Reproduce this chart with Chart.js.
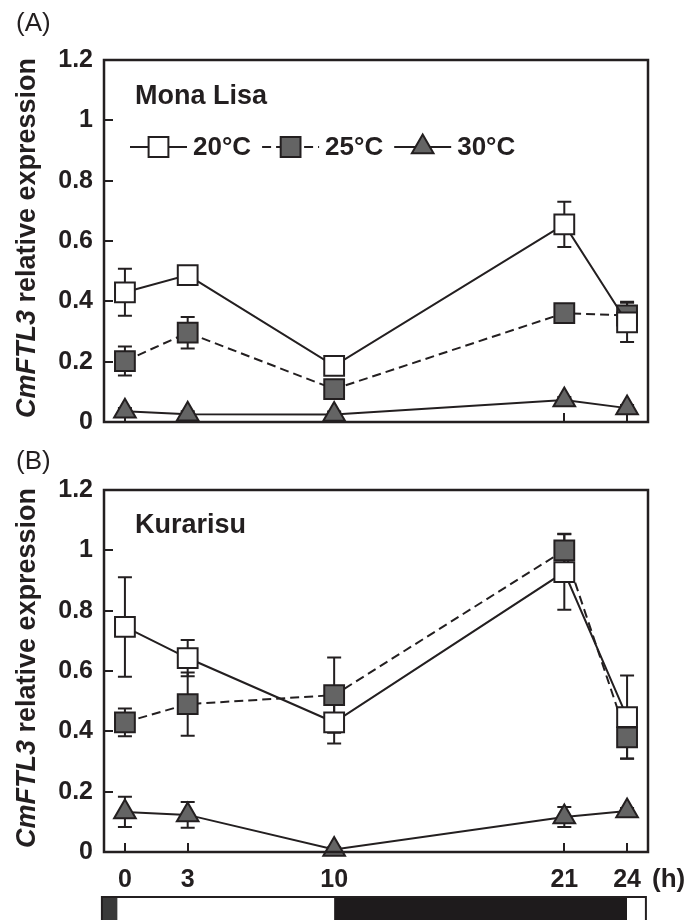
<!DOCTYPE html>
<html>
<head>
<meta charset="utf-8">
<script src="https://cdn.jsdelivr.net/npm/chart.js@4.4.1/dist/chart.umd.min.js"></script>
<style>
  html, body { margin: 0; padding: 0; background: #fff; }
  #wrap { position: relative; width: 700px; height: 920px; overflow: hidden; }
  canvas { position: absolute; left: 0; }
  #cA { top: 0; }
  #cB { top: 440px; }
</style>
</head>
<body>
<div id="wrap">
  <canvas id="cA" width="700" height="460"></canvas>
  <canvas id="cB" width="700" height="480"></canvas>
</div>
<script>
// ---------------- DATA ----------------
const hours = [0, 3, 10, 21, 24];
const xTickLabels = ['0', '3', '10', '21', '24'];
const yTicks = [0, 0.2, 0.4, 0.6, 0.8, 1, 1.2];
const seriesNames = ['20°C', '25°C', '30°C'];

// (A) Mona Lisa
const monaLisa20 = [0.43, 0.487, 0.186, 0.655, 0.33];
const monaLisa20Err = [0.078, 0.015, 0.015, 0.075, 0.065];
const monaLisa25 = [0.202, 0.296, 0.109, 0.361, 0.353];
const monaLisa25Err = [0.048, 0.052, 0.015, 0.015, 0.046];
const monaLisa30 = [0.036, 0.026, 0.025, 0.073, 0.046];
const monaLisa30Err = [0.01, 0.01, 0.01, 0.01, 0.01];

// (B) Kurarisu
const kurarisu20 = [0.746, 0.643, 0.43, 0.928, 0.447];
const kurarisu20Err = [0.165, 0.06, 0.07, 0.125, 0.138];
const kurarisu25 = [0.43, 0.49, 0.52, 1.0, 0.38];
const kurarisu25Err = [0.046, 0.105, 0.125, 0.055, 0.07];
const kurarisu30 = [0.133, 0.123, 0.008, 0.116, 0.136];
const kurarisu30Err = [0.05, 0.043, 0.008, 0.033, 0.01];

// light/dark periods (hours)
const periodStart = [-1.1, -0.35, 10, 24];
const periodEnd = [-0.35, 10, 24, 24.9];
const periodFill = ['#3a3a3a', '#ffffff', '#1e1b1c', '#ffffff'];

// ---------------- STYLE ----------------
const INK = '#231f20';
const GRAY = '#646464';
const FONT = '"Liberation Sans", Arial, Helvetica, sans-serif';

function pts(vals) { return hours.map((h, i) => ({ x: h, y: vals[i] })); }

function makeDatasets(v20, v25, v30) {
  return [
    { label: seriesNames[0], data: pts(v20), borderColor: INK, borderWidth: 2,
      pointStyle: 'rect', pointRadius: 14, pointBackgroundColor: '#ffffff',
      pointBorderColor: INK, pointBorderWidth: 2, tension: 0, clip: false },
    { label: seriesNames[1], data: pts(v25), borderColor: INK, borderWidth: 2, borderDash: [9, 5],
      pointStyle: 'rect', pointRadius: 14, pointBackgroundColor: GRAY,
      pointBorderColor: INK, pointBorderWidth: 2, tension: 0, clip: false },
    { label: seriesNames[2], data: pts(v30), borderColor: INK, borderWidth: 2,
      pointStyle: 'triangle', pointRadius: 12.5, pointBackgroundColor: GRAY,
      pointBorderColor: INK, pointBorderWidth: 2, tension: 0, clip: false }
  ];
}

function drawMarker(ctx, style, r, x, y, fill) {
  ctx.save();
  ctx.beginPath();
  if (style === 'rect') {
    const s = Math.SQRT1_2 * r;
    ctx.rect(x - s, y - s, 2 * s, 2 * s);
  } else {
    let rad = 0;
    ctx.moveTo(x + Math.sin(rad) * r, y - Math.cos(rad) * r);
    rad += 2 * Math.PI / 3;
    ctx.lineTo(x + Math.sin(rad) * r, y - Math.cos(rad) * r);
    rad += 2 * Math.PI / 3;
    ctx.lineTo(x + Math.sin(rad) * r, y - Math.cos(rad) * r);
    ctx.closePath();
  }
  ctx.fillStyle = fill;
  ctx.fill();
  ctx.lineWidth = 2;
  ctx.strokeStyle = INK;
  ctx.stroke();
  ctx.restore();
}

function makePanel(id, opts) {
  const errors = opts.errors;
  const panelPlugin = {
    id: 'panel_' + id,
    beforeDatasetsDraw(chart) {
      const ctx = chart.ctx;
      const xs = chart.scales.x, ys = chart.scales.y;
      const a = chart.chartArea;
      ctx.save();
      // inward ticks
      ctx.strokeStyle = INK;
      ctx.lineWidth = 2;
      ctx.beginPath();
      yTicks.forEach(v => {
        const py = Math.round(ys.getPixelForValue(v));
        ctx.moveTo(a.left, py); ctx.lineTo(a.left + 9, py);
      });
      hours.forEach(h => {
        const px = Math.round(xs.getPixelForValue(h));
        ctx.moveTo(px, a.bottom); ctx.lineTo(px, a.bottom - 9);
      });
      ctx.stroke();
      // error bars
      ctx.lineWidth = 2;
      chart.data.datasets.forEach((ds, di) => {
        const err = errors[di];
        ds.data.forEach((p, j) => {
          const e = err[j];
          const px = xs.getPixelForValue(p.x);
          const yt = ys.getPixelForValue(p.y + e);
          const yb = ys.getPixelForValue(p.y - e);
          ctx.beginPath();
          ctx.moveTo(px, yt); ctx.lineTo(px, yb);
          ctx.moveTo(px - 7, yt); ctx.lineTo(px + 7, yt);
          ctx.moveTo(px - 7, yb); ctx.lineTo(px + 7, yb);
          ctx.stroke();
        });
      });
      ctx.restore();
    },
    afterDraw(chart) {
      const ctx = chart.ctx;
      const a = chart.chartArea;
      const xs = chart.scales.x;
      ctx.save();
      // frame
      ctx.strokeStyle = INK;
      ctx.lineWidth = 2.5;
      ctx.strokeRect(a.left, a.top, a.right - a.left, a.bottom - a.top);
      // y-axis title (mixed italic)
      const f = 27;
      const p1 = 'CmFTL3', p2 = ' relative expression';
      ctx.font = 'italic bold ' + f + 'px ' + FONT;
      const w1 = ctx.measureText(p1).width;
      ctx.font = 'bold ' + f + 'px ' + FONT;
      const w2 = ctx.measureText(p2).width;
      const cy = (a.top + a.bottom) / 2 - 3;
      ctx.translate(35, cy);
      ctx.rotate(-Math.PI / 2);
      ctx.fillStyle = INK;
      ctx.textBaseline = 'alphabetic';
      ctx.textAlign = 'left';
      const sx = -(w1 + w2) / 2;
      ctx.font = 'italic bold ' + f + 'px ' + FONT;
      ctx.fillText(p1, sx, 0);
      ctx.font = 'bold ' + f + 'px ' + FONT;
      ctx.fillText(p2, sx + w1, 0);
      ctx.setTransform(1, 0, 0, 1, 0, 0);
      // panel letter
      ctx.font = '26px ' + FONT;
      ctx.textBaseline = 'middle';
      ctx.fillText(opts.letter, 16, opts.letterY);
      // cultivar name
      ctx.font = 'bold 27px ' + FONT;
      ctx.textBaseline = 'alphabetic';
      ctx.fillText(opts.name, 135, opts.nameY);
      // legend
      if (opts.legend) {
        let x = 130;
        const y = 147;
        ctx.font = 'bold 26px ' + FONT;
        ctx.textBaseline = 'middle';
        chart.data.datasets.forEach(ds => {
          ctx.save();
          ctx.strokeStyle = INK;
          ctx.lineWidth = 2;
          ctx.setLineDash(ds.borderDash || []);
          ctx.beginPath();
          ctx.moveTo(x, y); ctx.lineTo(x + 57, y);
          ctx.stroke();
          ctx.restore();
          drawMarker(ctx, ds.pointStyle, ds.pointRadius, x + 28.5, y, ds.pointBackgroundColor);
          ctx.fillStyle = INK;
          ctx.fillText(ds.label, x + 63, y + 1);
          x += 63 + ctx.measureText(ds.label).width + 11;
        });
      }
      // hour unit + light/dark bar
      if (opts.bar) {
        ctx.font = 'bold 26px ' + FONT;
        ctx.textBaseline = 'middle';
        ctx.fillStyle = INK;
        ctx.fillText('(h)', 652, 440);
        const top = 457, bot = 484;
        for (let i = 0; i < periodStart.length; i++) {
          const x0 = xs.getPixelForValue(periodStart[i]);
          const x1 = xs.getPixelForValue(periodEnd[i]);
          ctx.fillStyle = periodFill[i];
          ctx.fillRect(x0, top, x1 - x0, bot - top);
        }
        const xl = xs.getPixelForValue(periodStart[0]);
        const xr = xs.getPixelForValue(periodEnd[periodEnd.length - 1]);
        ctx.strokeStyle = INK;
        ctx.lineWidth = 2;
        ctx.strokeRect(xl, top, xr - xl, bot - top);
      }
      ctx.restore();
    }
  };

  return new Chart(document.getElementById(id), {
    type: 'line',
    data: { datasets: opts.datasets },
    options: {
      responsive: false,
      animation: false,
      devicePixelRatio: 1,
      layout: { padding: opts.padding },
      plugins: { legend: { display: false }, tooltip: { enabled: false } },
      scales: {
        x: {
          type: 'linear', min: -1, max: 25,
          grid: { display: false, drawTicks: false },
          border: { display: false },
          afterBuildTicks: ax => { ax.ticks = hours.map(v => ({ value: v })); },
          afterFit: ax => { ax.height = opts.xHeight; },
          ticks: {
            display: opts.xLabels, autoSkip: false, maxRotation: 0, padding: 13,
            color: INK, font: { family: FONT, size: 25, weight: 'bold' },
            callback: (v) => { const i = hours.indexOf(v); return i >= 0 ? xTickLabels[i] : ''; }
          }
        },
        y: {
          min: 0, max: 1.2,
          grid: { display: false, drawTicks: false },
          border: { display: false },
          afterBuildTicks: ax => { ax.ticks = yTicks.map(v => ({ value: v })); },
          afterFit: ax => { ax.width = 104; },
          ticks: {
            padding: 11, color: INK, font: { family: FONT, size: 25, weight: 'bold' },
            callback: v => String(Math.round(v * 10) / 10)
          }
        }
      }
    },
    plugins: [panelPlugin]
  });
}

makePanel('cA', {
  datasets: makeDatasets(monaLisa20, monaLisa25, monaLisa30),
  errors: [monaLisa20Err, monaLisa25Err, monaLisa30Err],
  padding: { left: 0, right: 52, top: 60, bottom: 38 },
  xHeight: 0, xLabels: false,
  letter: '(A)', letterY: 24, name: 'Mona Lisa', nameY: 104, legend: true, bar: false
});

makePanel('cB', {
  datasets: makeDatasets(kurarisu20, kurarisu25, kurarisu30),
  errors: [kurarisu20Err, kurarisu25Err, kurarisu30Err],
  padding: { left: 0, right: 52, top: 50, bottom: 0 },
  xHeight: 68, xLabels: true,
  letter: '(B)', letterY: 22, name: 'Kurarisu', nameY: 93, legend: false, bar: true
});
</script>
</body>
</html>
